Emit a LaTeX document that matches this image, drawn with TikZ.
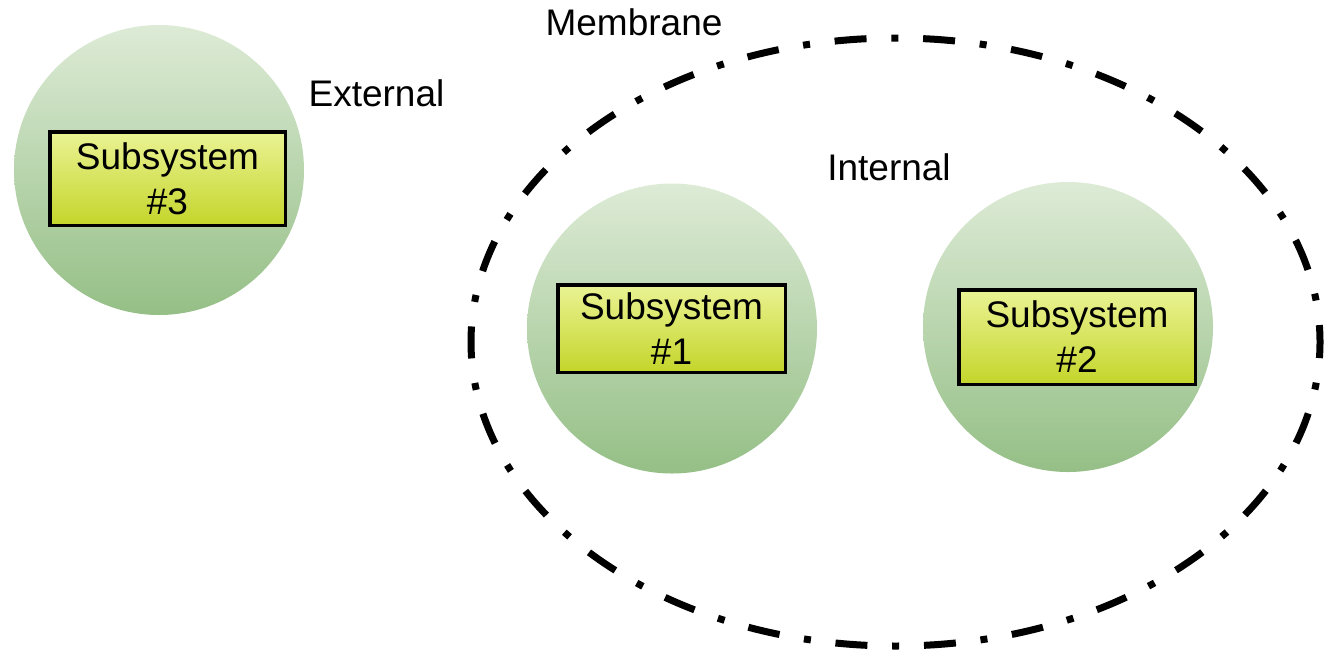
\documentclass[tikz,border=0pt]{standalone}
\usepackage{fontspec}
\setmainfont{Liberation Sans}
\begin{document}
\begin{tikzpicture}[x=1pt,y=-1pt,
  txt/.style={font=\fontsize{37}{45}\selectfont},
  cell/.style={circle, inner sep=0pt, minimum size=290, top color=cellTop, bottom color=cellBot},
  subsys/.style={draw=black, line width=3.5, txt, align=center, inner sep=0pt,
    top color=boxTop, bottom color=boxBot},
  membrane/.style={line width=7, dash pattern=on 32 off 24.8 on 7 off 24.8, dash phase=15.9}
]
\definecolor{cellTop}{HTML}{DDEBD6}
\definecolor{cellBot}{HTML}{95BF86}
\definecolor{boxTop}{HTML}{EAF394}
\definecolor{boxBot}{HTML}{C4D52A}
\useasboundingbox (0,0) rectangle (1332,654);

% membrane boundary
\draw[membrane] (895.5,342) ellipse [x radius=424.5, y radius=304];

% cells
\node[cell] (c3) at (159,170) {};
\node[cell] (c1) at (672,328.5) {};
\node[cell] (c2) at (1068,327) {};

% subsystems
\node[subsys, minimum width=235.5, minimum height=93.5] (s3) at (167.5,178.5) {Subsystem\\\#3};
\node[subsys, minimum width=227.5, minimum height=87.5] (s1) at (671.5,328.5) {Subsystem\\\#1};
\node[subsys, minimum width=236.5, minimum height=94.5] (s2) at (1077,337) {Subsystem\\\#2};

% region labels
\node[txt, anchor=base, inner sep=0pt] (lmem) at (634,35) {Membrane};
\node[txt, anchor=base, inner sep=0pt] (lext) at (376.5,106) {External};
\node[txt, anchor=base, inner sep=0pt] (lint) at (889,180) {Internal};
\end{tikzpicture}
\end{document}
